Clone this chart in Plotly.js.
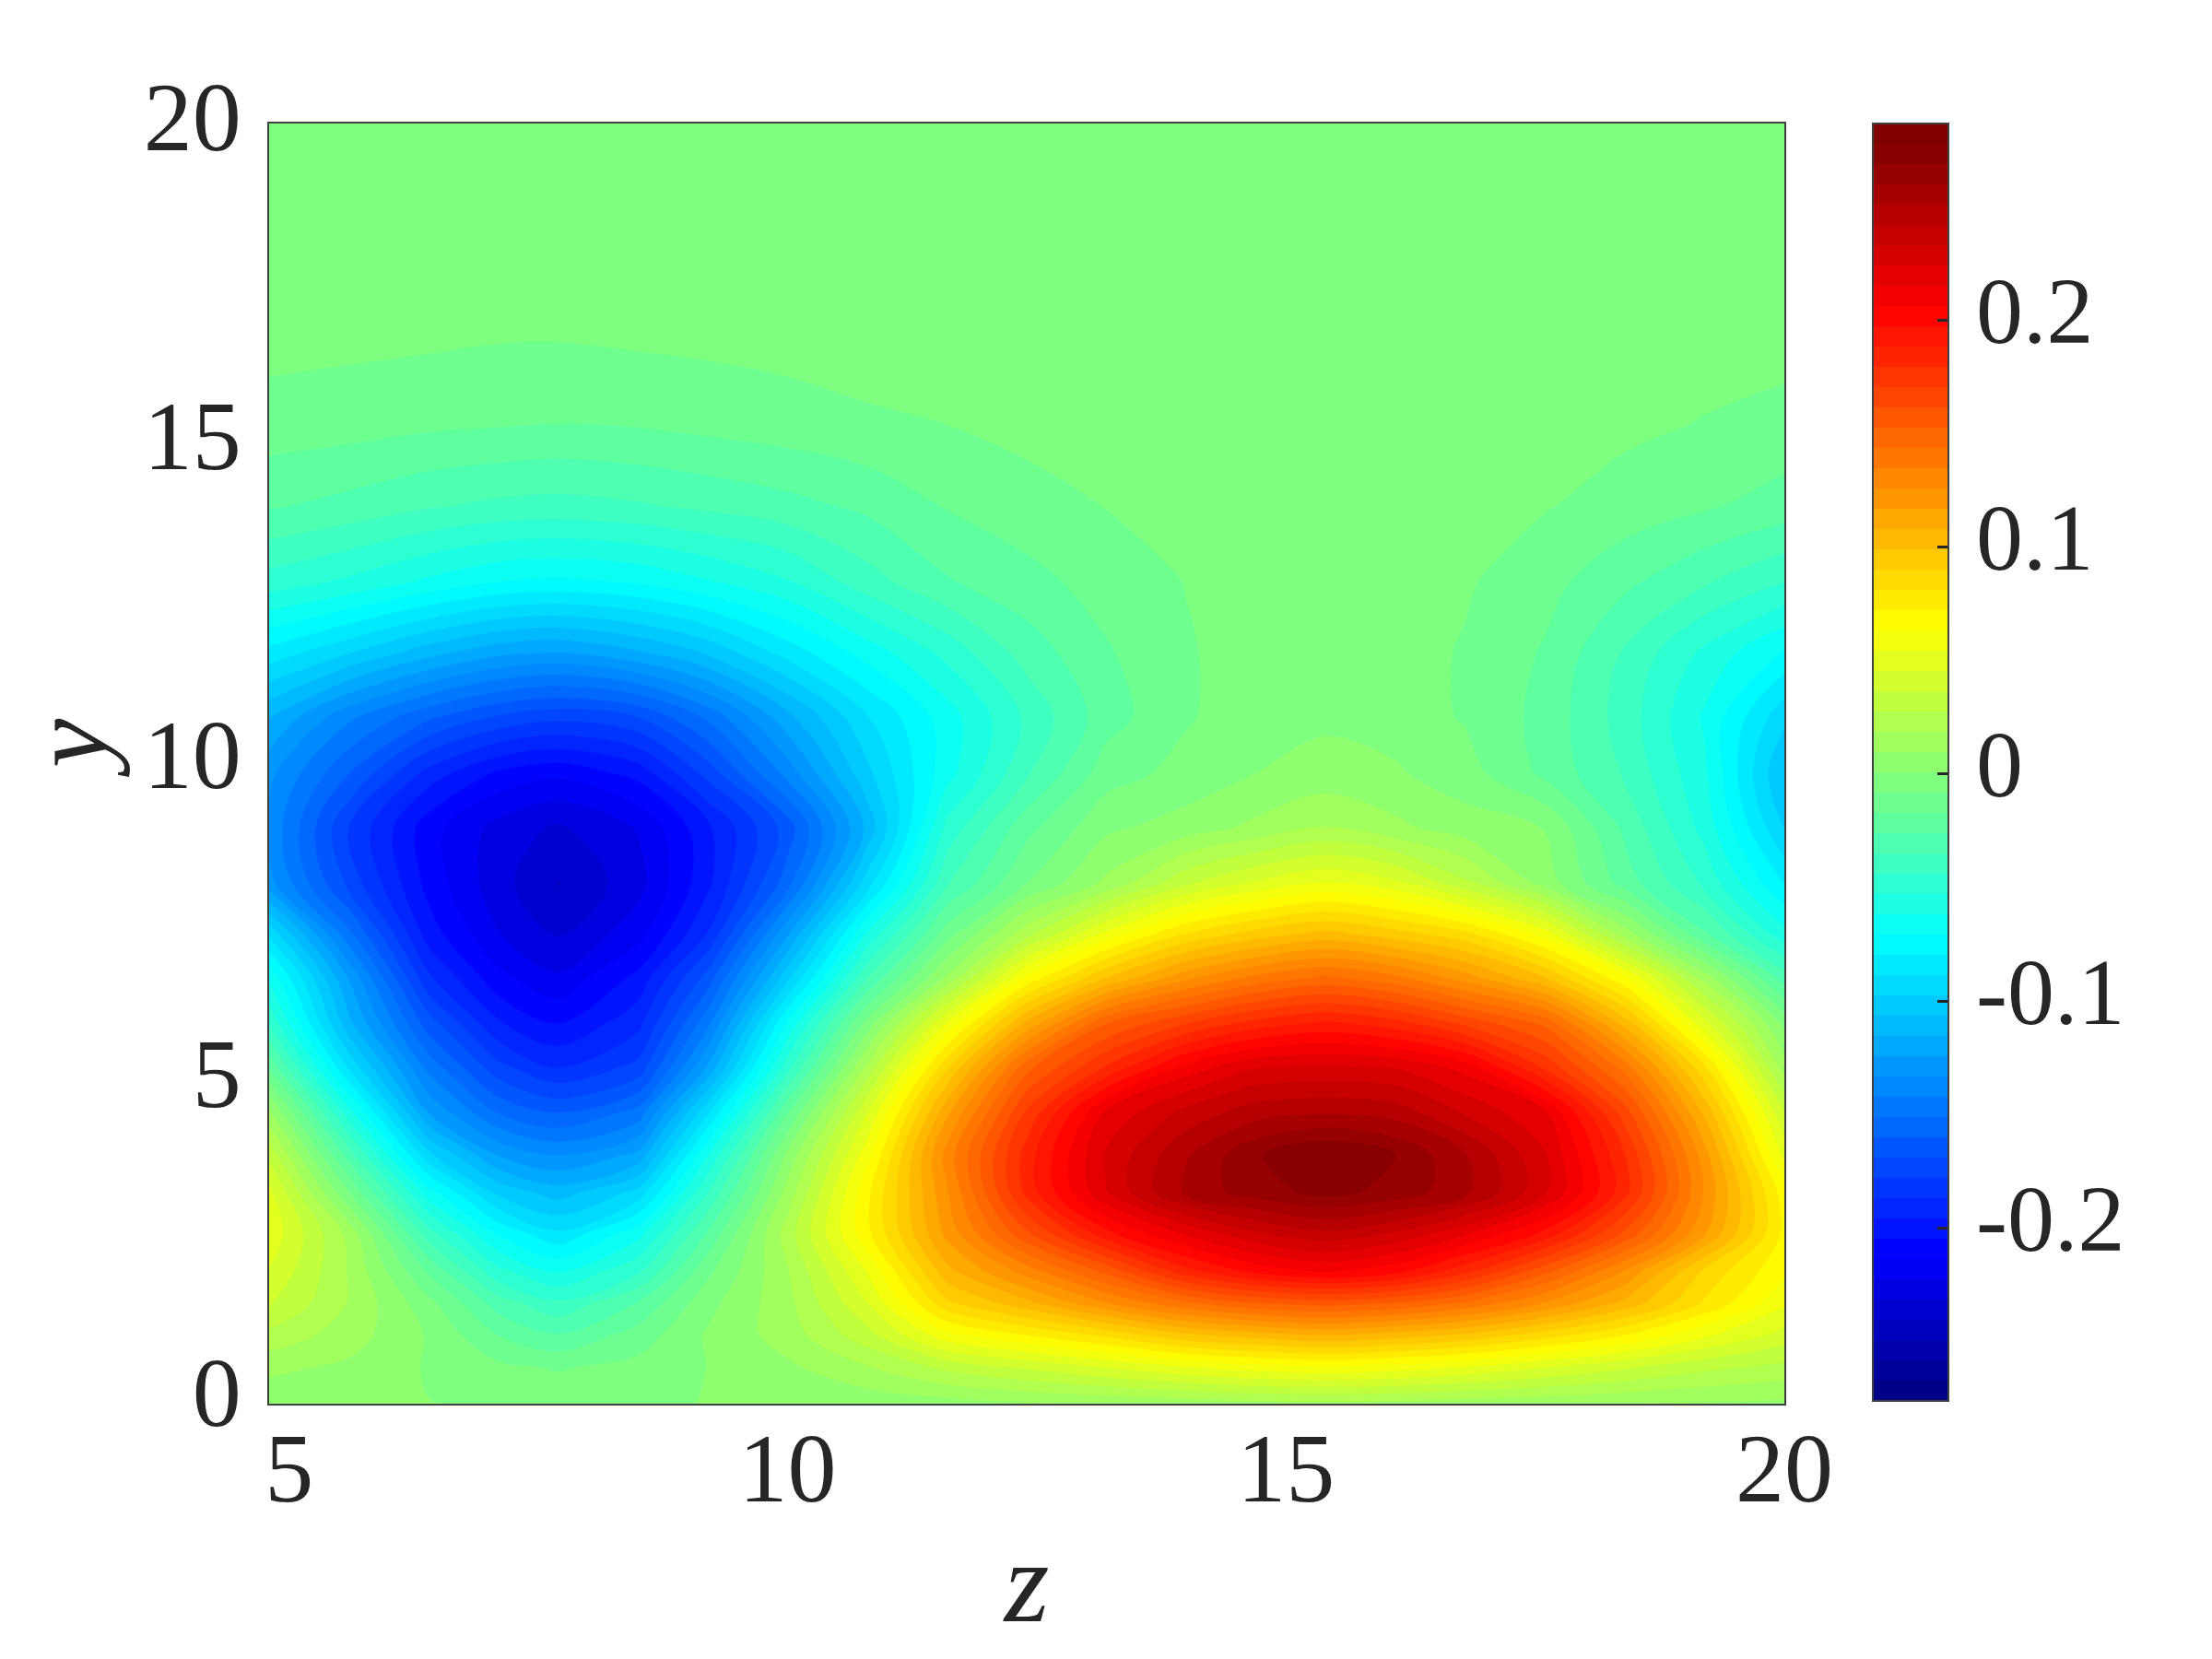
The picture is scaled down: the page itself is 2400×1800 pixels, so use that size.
<!DOCTYPE html>
<html>
<head>
<meta charset="utf-8">
<script src="https://cdn.plot.ly/plotly-3.0.1.min.js"></script>
<style>
  html, body { margin: 0; padding: 0; background: #fff; }
  #plot { width: 2400px; height: 1800px; }
</style>
</head>
<body>
<div id="plot"></div>
<script>
const zPos = [4.8, 5.6, 6.4, 7.1, 7.7, 8.5, 9.2, 10, 10.8, 11.6, 12.4, 13.2, 14, 14.7, 15.4, 16.1, 16.8, 17.6, 18.4, 19.2, 20];
const yPos = [-0.07, 0.5, 1, 1.5, 2, 2.6, 3.25, 3.83, 4.5, 5.2, 5.9, 6.6, 7.28, 8.09, 8.96, 9.8, 10.7, 11.7, 12.8, 14, 15.3, 16.8, 18.5, 20];

// one row per yPos
const field = [
  [.004, .003, .001, 0, -.001, 0, .001, .002, .004, .006, .009, .011, .013, .015, .016, .015, .013, .012, .01, .009, .008],
  [.012, .008, 0, -.006, -.009, -.005, .001, .008, .018, .03, .038, .046, .054, .059, .062, .059, .054, .046, .038, .03, .025],
  [.025, .014, 0, -.017, -.025, -.013, .002, .014, .033, .06, .072, .083, .097, .103, .108, .103, .097, .085, .072, .056, .042],
  [.038, .018, -.005, -.03, -.042, -.025, -.002, .016, .045, .088, .105, .125, .142, .152, .156, .152, .142, .125, .105, .08, .056],
  [.045, .018, -.018, -.05, -.062, -.045, -.01, .018, .055, .105, .13, .155, .185, .2, .207, .2, .182, .155, .125, .088, .065],
  [.052, .016, -.04, -.072, -.087, -.065, -.025, .023, .07, .12, .16, .195, .217, .232, .24, .232, .217, .195, .16, .118, .07],
  [.048, -.008, -.067, -.1, -.111, -.095, -.044, .013, .07, .125, .183, .224, .254, .265, .272, .266, .254, .226, .183, .125, .067],
  [.034, -.03, -.095, -.125, -.134, -.122, -.062, .003, .06, .13, .184, .226, .25, .268, .278, .269, .252, .225, .18, .121, .052],
  [.012, -.058, -.125, -.152, -.161, -.148, -.09, -.018, .045, .115, .172, .217, .236, .247, .25, .247, .232, .216, .166, .106, .037],
  [-.018, -.09, -.145, -.175, -.187, -.175, -.123, -.047, .021, .089, .15, .181, .21, .224, .226, .224, .212, .178, .14, .083, .014],
  [-.045, -.113, -.165, -.195, -.205, -.19, -.145, -.07, -.005, .055, .11, .152, .17, .183, .19, .183, .168, .15, .104, .048, -.002],
  [-.063, -.125, -.185, -.211, -.221, -.202, -.165, -.1, -.035, .012, .066, .1, .124, .138, .146, .138, .122, .1, .065, .015, -.03],
  [-.09, -.148, -.2, -.222, -.232, -.217, -.186, -.125, -.06, -.012, .025, .058, .083, .095, .103, .095, .085, .06, .015, -.024, -.058],
  [-.13, -.172, -.208, -.228, -.241, -.226, -.198, -.155, -.093, -.036, -.008, .012, .035, .047, .055, .048, .03, .006, -.021, -.046, -.08],
  [-.135, -.178, -.21, -.226, -.233, -.222, -.198, -.165, -.113, -.05, -.02, -.001, .005, .012, .019, .012, .005, .0005, -.028, -.056, -.098],
  [-.131, -.16, -.191, -.207, -.212, -.202, -.175, -.139, -.1, -.065, -.036, -.012, -.005, .001, .0045, .002, -.004, -.019, -.036, -.06, -.107],
  [-.115, -.14, -.158, -.17, -.175, -.169, -.149, -.118, -.089, -.066, -.042, -.021, -.009, -.003, -.001, -.003, -.009, -.02, -.039, -.063, -.095],
  [-.083, -.097, -.112, -.122, -.125, -.117, -.105, -.085, -.067, -.05, -.031, -.018, -.009, -.004, -.002, -.004, -.009, -.018, -.036, -.055, -.072],
  [-.048, -.055, -.064, -.071, -.073, -.07, -.063, -.054, -.039, -.027, -.02, -.0135, -.0078, -.003, -.002, -.003, -.007, -.014, -.024, -.034, -.044],
  [-.025, -.029, -.034, -.037, -.038, -.036, -.033, -.029, -.024, -.0165, -.012, -.0078, -.004, -.002, -.001, -.002, -.004, -.0075, -.012, -.016, -.021],
  [-.012, -.013, -.015, -.016, -.017, -.016, -.014, -.012, -.0095, -.008, -.005, -.003, -.002, -.001, -.001, -.001, -.002, -.004, -.006, -.0085, -.011],
  [-.004, -.005, -.0055, -.0065, -.0065, -.0055, -.005, -.004, -.003, -.002, -.001, -.001, -.001, -.001, -.001, -.001, -.001, -.002, -.003, -.004, -.004],
  [-.001, -.001, -.001, -.001, -.001, -.001, -.001, -.001, -.001, -.001, -.001, -.001, -.001, -.001, -.001, -.001, -.001, -.001, -.001, -.001, -.001],
  [-.001, -.001, -.001, -.001, -.001, -.001, -.001, -.001, -.001, -.001, -.001, -.001, -.001, -.001, -.001, -.001, -.001, -.001, -.001, -.001, -.001]
];

const zTicks = [5, 10, 15, 20];
const yTicks = [0, 5, 10, 15, 20];
const cbTicks = [-0.2, -0.1, 0, 0.1, 0.2];
const cbLabels = ["-0.2", "-0.1", "0", "0.1", "0.2"];

const vMin = -0.2763, vMax = 0.2868, levelStep = 0.00894;

// jet, nudged half a band so the far field lands on the same green as the reference
const jet = [
  [0, "#000080"], [0.117, "#0000ff"], [0.367, "#00ffff"],
  [0.617, "#ffff00"], [0.867, "#ff0000"], [1, "#800000"]
];

const serif = "Liberation Serif, serif";
const ink = "#262626";
const frame = "#404040";

// plot box and colour bar edges, in page pixels
const boxTop = 134, boxBottom = 1523, boxLeft = 292, boxRight = 1936;
const barLeft = 2032, barHeight = 1386, barLabelLeft = 2142;

function barPaperY(v) {
  const py = boxTop + (vMax - v) / (vMax - vMin) * barHeight;
  return (boxBottom - py) / (boxBottom - boxTop);
}

const trace = {
  type: "contour",
  x: zPos,
  y: yPos,
  z: field,
  zmin: vMin,
  zmax: vMax,
  colorscale: jet,
  autocontour: false,
  contours: { coloring: "fill", start: vMin, end: vMax, size: levelStep, showlines: false },
  line: { width: 0 },
  colorbar: {
    x: (barLeft - boxLeft) / (boxRight - boxLeft),
    xanchor: "left",
    y: 1,
    yanchor: "top",
    xpad: 0,
    ypad: 0,
    thickness: 82,
    thicknessmode: "pixels",
    len: barHeight,
    lenmode: "pixels",
    outlinecolor: frame,
    outlinewidth: 2,
    ticks: "inside",
    ticklen: 13,
    tickwidth: 3,
    tickcolor: ink,
    tickmode: "array",
    tickvals: cbTicks,
    showticklabels: false
  }
};

// colour bar labels sit a little above their ticks in the reference
const barLabels = cbTicks.map((v, i) => ({
  xref: "paper",
  yref: "paper",
  x: (barLabelLeft - boxLeft) / (boxRight - boxLeft),
  y: barPaperY(v),
  xanchor: "left",
  yanchor: "middle",
  yshift: 10,
  showarrow: false,
  text: cbLabels[i],
  font: { family: serif, size: 102, color: ink }
}));

// y title is off centre in the reference, an axis title cannot do that
const yTitle = {
  xref: "paper",
  yref: "paper",
  x: (74 - boxLeft) / (boxRight - boxLeft),
  y: (boxBottom - 812) / (boxBottom - boxTop),
  xanchor: "center",
  yanchor: "middle",
  textangle: -90,
  showarrow: false,
  text: "<i>y</i>",
  font: { family: serif, size: 120, color: ink }
};

const layout = {
  width: 2400,
  height: 1800,
  margin: { l: boxLeft, r: 2400 - boxRight, t: boxTop, b: 1800 - boxBottom },
  paper_bgcolor: "#fff",
  plot_bgcolor: "#fff",
  font: { family: serif, color: ink },
  xaxis: {
    range: [4.8, 20],
    tickmode: "array",
    tickvals: zTicks,
    ticks: "",
    ticklabelstandoff: -23,
    tickfont: { family: serif, size: 106, color: ink },
    showgrid: false,
    zeroline: false,
    showline: true,
    mirror: true,
    linecolor: frame,
    linewidth: 2,
    title: { text: "<i>z</i>", font: { family: serif, size: 125, color: ink }, standoff: 20 }
  },
  yaxis: {
    range: [-0.07, 20],
    tickmode: "array",
    tickvals: yTicks,
    ticks: "",
    ticklabelstandoff: 7,
    ticklabelshift: -8,
    tickfont: { family: serif, size: 106, color: ink },
    showgrid: false,
    zeroline: false,
    showline: true,
    mirror: true,
    linecolor: frame,
    linewidth: 2
  },
  annotations: barLabels.concat([yTitle])
};

Plotly.newPlot("plot", [trace], layout, { displayModeBar: false, responsive: false });
</script>
</body>
</html>
